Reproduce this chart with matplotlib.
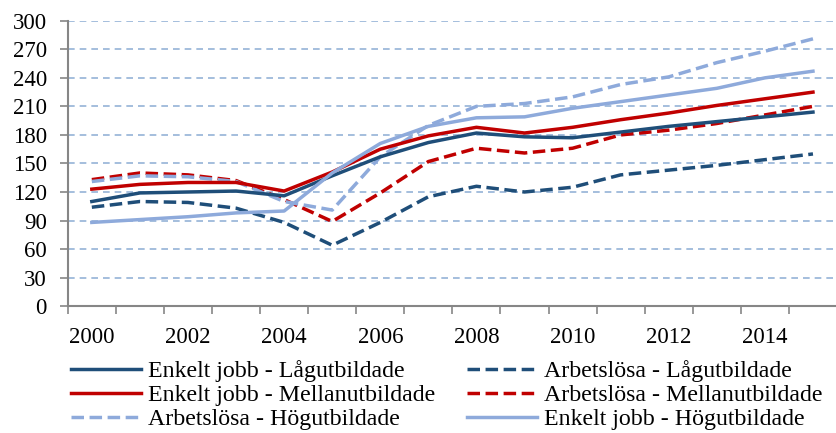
import matplotlib.pyplot as plt
import matplotlib.ticker as ticker
import numpy as np

plt.rcParams["font.family"] = ["Liberation Serif", "DejaVu Serif"]

years = list(range(2000, 2016))
tick_years = [2000, 2002, 2004, 2006, 2008, 2010, 2012, 2014]

ej_lag = [110, 119, 120, 121, 116, 137, 157, 172, 182, 178, 177, 183, 189, 194, 199, 204]
arb_lag = [104, 110, 109, 103, 88, 64, 88, 115, 126, 120, 125, 138, 143, 148, 154, 160]
ej_mellan = [123, 128, 130, 130, 121, 141, 165, 179, 188, 182, 188, 196, 203, 211, 218, 225]
arb_mellan = [133, 140, 138, 132, 112, 89, 119, 152, 166, 161, 166, 180, 185, 192, 201, 210]
arb_hog = [131, 137, 136, 131, 110, 101, 157, 190, 210, 213, 220, 233, 241, 256, 268, 281]
ej_hog = [88, 91, 94, 98, 100, 140, 171, 189, 198, 199, 208, 215, 222, 229, 240, 247]

dark = "#1F4E79"
red = "#C00000"
light = "#8EAADB"

fig = plt.figure(figsize=(8.37, 4.33), dpi=100)
ax = fig.add_axes([0.081, 0.293, 0.919, 0.659])

x = np.arange(len(years)) + 0.5
lw = 2.5
dash = (3.6, 1.6)
series = [
    ("Enkelt jobb - Lågutbildade", ej_lag, dark, "-"),
    ("Enkelt jobb - Mellanutbildade", ej_mellan, red, "-"),
    ("Arbetslösa - Högutbildade", arb_hog, light, "--"),
    ("Arbetslösa - Lågutbildade", arb_lag, dark, "--"),
    ("Arbetslösa - Mellanutbildade", arb_mellan, red, "--"),
    ("Enkelt jobb - Högutbildade", ej_hog, light, "-"),
]
# draw order roughly as in the original (light solid on top)
handles = {}
for label, vals, color, ls in [series[3], series[4], series[2], series[0], series[1], series[5]]:
    line, = ax.plot(x, vals, color=color, lw=lw, ls=ls, label=label)
    if ls == "--":
        line.set_dashes(dash)
    handles[label] = line

ax.set_xlim(0, 16)
ax.set_ylim(0, 300)
ax.yaxis.set_major_locator(ticker.MultipleLocator(30))
ax.set_xticks(np.arange(0, 17))
ax.set_xticklabels([])
ax.set_xticks([years.index(y) + 0.5 for y in tick_years], minor=True)
ax.set_xticklabels([str(y) for y in tick_years], minor=True)
ax.tick_params(axis="x", which="minor", length=0, pad=15, labelsize=16.5)
ax.tick_params(axis="x", which="major", length=6, width=1.2, color="#868686", direction="out")
ax.tick_params(axis="y", length=6, width=1.2, color="#868686", labelsize=16.5, pad=9)

ax.grid(axis="y", color="#95B3D7", lw=1.2, ls=(0, (4, 3)))
ax.set_axisbelow(True)
for s in ["top", "right"]:
    ax.spines[s].set_visible(False)
for s in ["left", "bottom"]:
    ax.spines[s].set_color("#868686")
    ax.spines[s].set_linewidth(1.5)

order = [s[0] for s in series]
fig.legend([handles[l] for l in order], order, loc="upper left",
           bbox_to_anchor=(0.076, 0.185), ncol=2, frameon=False,
           fontsize=17.2, handlelength=2.93, handletextpad=0.3,
           columnspacing=1.34, labelspacing=0.1, borderaxespad=0,
           borderpad=0.3)

fig.savefig("out.png", dpi=100)
